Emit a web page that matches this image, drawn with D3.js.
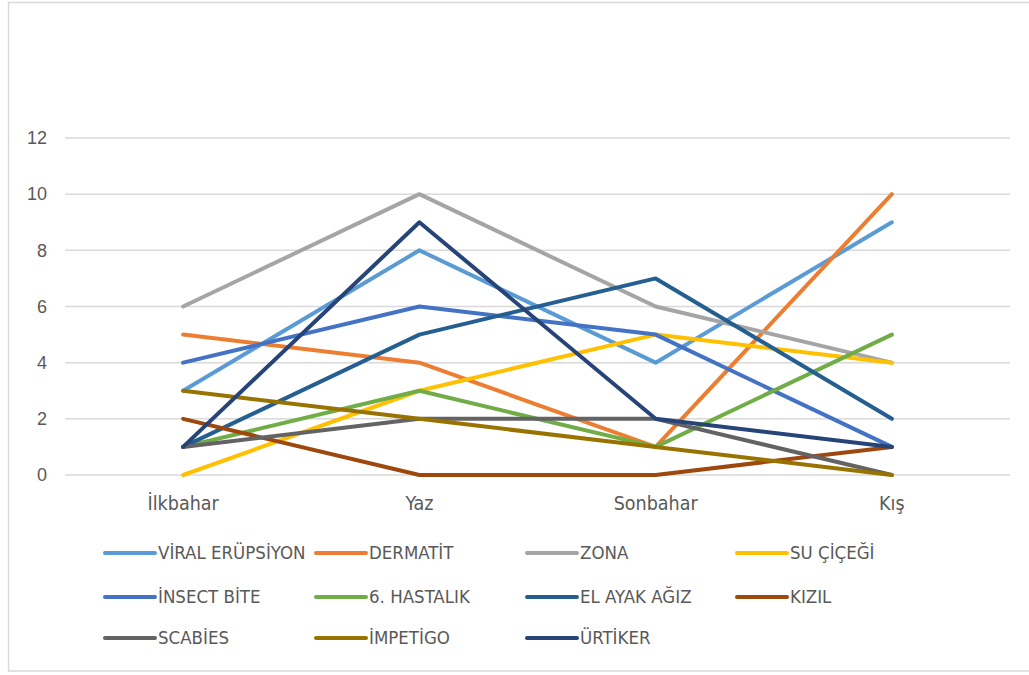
<!DOCTYPE html>
<html>
<head>
<meta charset="utf-8">
<script src="https://cdn.jsdelivr.net/npm/d3@7"></script>
<style>
  body { margin: 0; background: #fff; }
  svg text { fill: #595959; }
</style>
</head>
<body>
<div id="chart"></div>
<script>
// seasons and series (counts per season)
var seasons = ["İlkbahar", "Yaz", "Sonbahar", "Kış"];
var seriesNames = ["VİRAL ERÜPSİYON", "DERMATİT", "ZONA", "SU ÇİÇEĞİ",
  "İNSECT BİTE", "6. HASTALIK", "EL AYAK AĞIZ", "KIZIL",
  "SCABİES", "İMPETİGO", "ÜRTİKER"];
var viral    = [3, 8, 4, 9];
var dermatit = [5, 4, 1, 10];
var zona     = [6, 10, 6, 4];
var suCicegi = [0, 3, 5, 4];
var insect   = [4, 6, 5, 1];
var hastalik = [1, 3, 1, 5];
var elAyak   = [1, 5, 7, 2];
var kizil    = [2, 0, 0, 1];
var scabies  = [1, 2, 2, 0];
var impetigo = [3, 2, 1, 0];
var urtiker  = [1, 9, 2, 1];
var yTicks = [0, 2, 4, 6, 8, 10, 12];
var colors = ["#5B9BD5", "#ED7D31", "#A5A5A5", "#FFC000", "#4472C4", "#70AD47",
  "#255E91", "#9E480E", "#636363", "#997300", "#264478"];

var seriesValues = [viral, dermatit, zona, suCicegi, insect, hastalik,
  elAyak, kizil, scabies, impetigo, urtiker];

var width = 1029, height = 675;
var narrow = "'Liberation Sans Narrow', 'Arial Narrow', 'DejaVu Sans Condensed', sans-serif";

var svg = d3.select("#chart").append("svg")
  .attr("width", width)
  .attr("height", height);

// chart frame
svg.append("rect")
  .attr("x", 8.5).attr("y", 2.5)
  .attr("width", 1030).attr("height", 668.5)
  .attr("fill", "none")
  .attr("stroke", "#d9d9d9")
  .attr("stroke-width", 1.5);

var x = d3.scalePoint().domain(seasons).range([65, 1010]).padding(0.5);
var y = d3.scaleLinear().domain([0, 12]).range([475, 138]);

// gridlines
svg.selectAll("line.grid")
  .data(yTicks)
  .enter().append("line")
    .attr("class", "grid")
    .attr("x1", 65).attr("x2", 1010)
    .attr("y1", function(d) { return y(d); })
    .attr("y2", function(d) { return y(d); })
    .attr("stroke", "#d9d9d9")
    .attr("stroke-width", 1.5);

// y tick labels
svg.selectAll("text.ytick")
  .data(yTicks)
  .enter().append("text")
    .attr("class", "ytick")
    .attr("x", 47)
    .attr("y", function(d) { return y(d); })
    .attr("dy", "0.35em")
    .attr("text-anchor", "end")
    .style("font-family", "'Liberation Sans', Arial, sans-serif")
    .style("font-size", "18px")
    .text(function(d) { return d; });

// category labels
svg.selectAll("text.xtick")
  .data(seasons)
  .enter().append("text")
    .attr("class", "xtick")
    .attr("x", function(d) { return x(d); })
    .attr("y", 510)
    .attr("text-anchor", "middle")
    .style("font-family", narrow)
    .style("font-size", "19.5px")
    .text(function(d) { return d; });

// lines
var line = d3.line()
  .x(function(d, i) { return x(seasons[i]); })
  .y(function(d) { return y(d); });

svg.selectAll("path.series")
  .data(seriesValues)
  .enter().append("path")
    .attr("class", "series")
    .attr("d", line)
    .attr("fill", "none")
    .attr("stroke", function(d, i) { return colors[i]; })
    .attr("stroke-width", 4)
    .attr("stroke-linejoin", "round")
    .attr("stroke-linecap", "round");

// legend
var colX = [105, 316, 527, 737];
var rowY = [553, 597, 638];
var leg = svg.selectAll("g.leg")
  .data(seriesNames)
  .enter().append("g")
    .attr("class", "leg")
    .attr("transform", function(d, i) {
      return "translate(" + colX[i % 4] + "," + rowY[Math.floor(i / 4)] + ")";
    });

leg.append("line")
  .attr("x1", 0).attr("x2", 50)
  .attr("y1", 0).attr("y2", 0)
  .attr("stroke", function(d, i) { return colors[i]; })
  .attr("stroke-width", 4)
  .attr("stroke-linecap", "round");

leg.append("text")
  .attr("x", 53)
  .attr("y", 6)
  .style("font-family", narrow)
  .style("font-size", "18.5px")
  .text(function(d) { return d; });
</script>
</body>
</html>
